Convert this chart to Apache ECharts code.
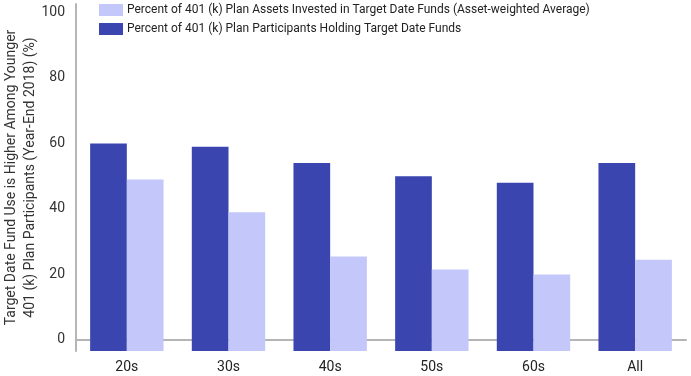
<!DOCTYPE html>
<html><head><meta charset="utf-8">
<script src="https://cdn.jsdelivr.net/npm/echarts@6/dist/echarts.min.js"></script>
<style>html,body{margin:0;padding:0;background:#fff}#c{width:691px;height:376px}</style>
</head><body><div id="c"></div>
<script>
const categories = ['20s', '30s', '40s', '50s', '60s', 'All'];
const participants = [60, 59, 54, 50, 48, 54];
const assets = [49, 39, 25.5, 21.5, 20, 24.5];
const tickLabels = [0, 20, 40, 60, 80, 100];
const seriesNames = [
  'Percent of 401 (k) Plan Participants Holding Target Date Funds',
  'Percent of 401 (k) Plan Assets Invested in Target Date Funds (Asset-weighted Average)'
];
const yTitle = 'Target Date Fund Use is Higher Among Younger\n401 (k) Plan Participants (Year-End 2018) (%)';

const FONT = 'Roboto';
const chart = echarts.init(document.getElementById('c'), null, {renderer: 'canvas'});
const yMin = -3.4, yMax = 102.6;
chart.setOption({
  animation: false,
  textStyle: {fontFamily: FONT},
  legend: {
    left: 99, top: 4, orient: 'vertical', itemWidth: 24, itemHeight: 12, itemGap: 7,
    icon: 'rect',
    data: [seriesNames[1], seriesNames[0]],
    textStyle: {fontFamily: FONT, fontSize: 12, color: '#222', padding: [0, 0, 0, -1]},
    padding: 0
  },
  grid: {left: 76, right: 5, top: 4, bottom: 25, containLabel: false, outerBoundsMode: 'none'},
  xAxis: {
    type: 'category', data: categories,
    axisLine: {lineStyle: {color: '#b5b5b5', width: 2}},
    axisTick: {show: false},
    axisLabel: {fontFamily: FONT, fontSize: 14, color: '#222', margin: 9}
  },
  yAxis: {
    type: 'value', min: yMin, max: yMax, startValue: yMin,
    name: yTitle, nameLocation: 'middle', nameGap: 36, nameRotate: 90, nameMoveOverlap: false,
    nameTextStyle: {fontFamily: FONT, fontSize: 14, color: '#333', lineHeight: 19},
    axisLine: {show: true, lineStyle: {color: '#b5b5b5', width: 2}},
    axisTick: {show: false},
    splitLine: {show: false},
    axisLabel: {customValues: tickLabels, fontFamily: FONT, fontSize: 14, color: '#333', margin: 11}
  },
  series: [
    {name: seriesNames[0], type: 'bar', data: participants, barGap: '0%', barCategoryGap: '27.8%',
     itemStyle: {color: '#3a45b0'}},
    {name: seriesNames[1], type: 'bar', data: assets, barGap: '0%', barCategoryGap: '27.8%',
     itemStyle: {color: '#c3c7f9'}}
  ]
});
</script></body></html>
